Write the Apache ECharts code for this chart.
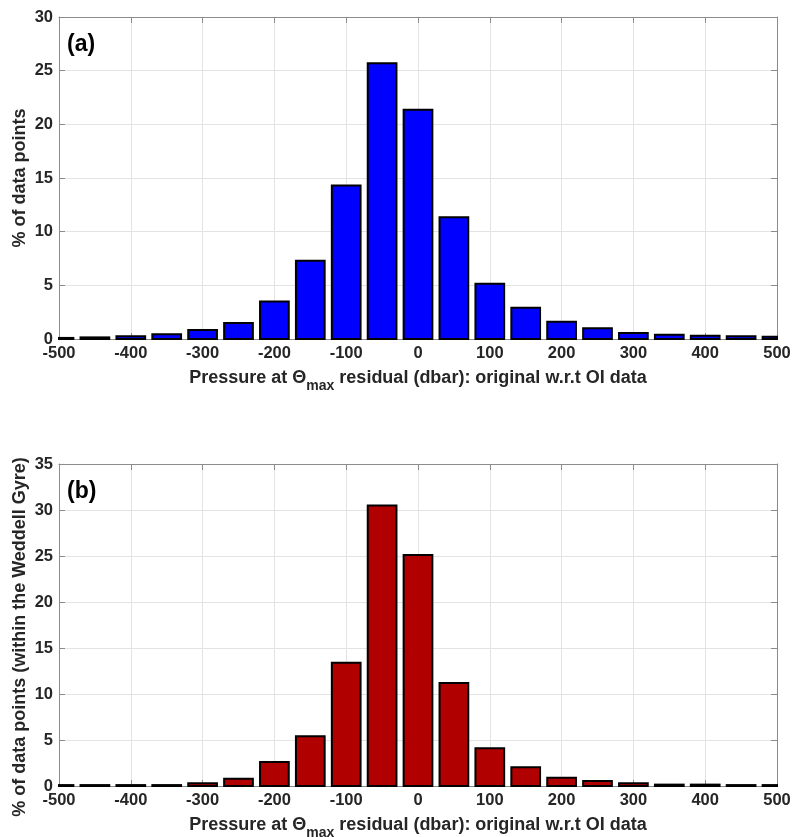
<!DOCTYPE html>
<html>
<head>
<meta charset="utf-8">
<script src="https://cdn.jsdelivr.net/npm/echarts@6/dist/echarts.min.js"></script>
<style>
    html, body { margin: 0; padding: 0; background: #fff; }
    #chart { width: 795px; height: 837px; }
</style>
</head>
<body>
<div id="chart"></div>
<script>
    // bin centres (dbar) and % of data points in each bin
    const residuals = [-500, -450, -400, -350, -300, -250, -200, -150, -100, -50, 0,
                       50, 100, 150, 200, 250, 300, 350, 400, 450, 500];
    const pctAll = [0.1, 0.15, 0.25, 0.45, 0.85, 1.5, 3.5, 7.3, 14.3, 25.7, 21.35,
                    11.35, 5.15, 2.9, 1.6, 1.0, 0.55, 0.4, 0.3, 0.25, 0.2];
    const pctWeddell = [0.1, 0.1, 0.1, 0.1, 0.3, 0.8, 2.6, 5.4, 13.4, 30.5, 25.1,
                        11.2, 4.1, 2.05, 0.9, 0.55, 0.3, 0.15, 0.15, 0.1, 0.1];
    const panelLabels = ['(a)', '(b)'];
    const yNames = ['% of data points', '% of data points (within the Weddell Gyre)'];
    const yMax = [30, 35];
    const barHalfWidth = 20; // dbar, bars are 40 dbar wide in 50 dbar bins

    const textColor = '#262626';
    const boxColor = '#8c8c8c';
    const font = 'Liberation Sans';

    const chart = echarts.init(document.getElementById('chart'));

    const grids = [
        { left: 59, top: 17, width: 718, height: 322, containLabel: false, outerBoundsMode: 'none' },
        { left: 59, top: 464, width: 718, height: 322, containLabel: false, outerBoundsMode: 'none' }
    ];

    const xAxes = [];
    const yAxes = [];
    const series = [];
    const titles = [];

    function boxAxis(extra) {
        return Object.assign({
            axisLine: { show: true, onZero: false, lineStyle: { color: boxColor, width: 1 } },
            axisTick: { show: true, inside: true, length: 6, lineStyle: { color: boxColor } },
            axisLabel: { show: false },
            splitLine: { show: false }
        }, extra);
    }

    [pctAll, pctWeddell].forEach(function (vals, g) {
        // bottom x axis
        xAxes.push(boxAxis({
            type: 'value', gridIndex: g, min: -500, max: 500, interval: 100,
            name: '{n|Pressure at Θ}{s|max}{n| residual (dbar): original w.r.t OI data}',
            nameLocation: 'middle', nameGap: 25,
            nameTextStyle: {
                rich: {
                    n: { fontFamily: font, fontWeight: 'bold', fontSize: 18, color: textColor },
                    s: { fontFamily: font, fontWeight: 'bold', fontSize: 14, color: textColor, padding: [15, 0, 0, 0] }
                }
            },
            axisLabel: { color: textColor, fontFamily: font, fontWeight: 'bold', fontSize: 16.5, margin: 6 },
            splitLine: { show: true, lineStyle: { color: '#e3e3e3', width: 1 } }
        }));
        // top x axis (box + ticks)
        xAxes.push(boxAxis({ type: 'value', gridIndex: g, position: 'top', min: -500, max: 500, interval: 100 }));
        // left y axis
        yAxes.push(boxAxis({
            type: 'value', gridIndex: g, min: 0, max: yMax[g], interval: 5,
            name: yNames[g], nameLocation: 'middle', nameGap: 30, nameMoveOverlap: false,
            nameTextStyle: {
                fontFamily: font, fontWeight: 'bold', fontSize: 18, color: textColor,
                padding: g === 1 ? [0, 24, 0, 0] : 0
            },
            axisLabel: { color: textColor, fontFamily: font, fontWeight: 'bold', fontSize: 16.5, margin: 6 },
            splitLine: { show: true, lineStyle: { color: '#e3e3e3', width: 1 } }
        }));
        // right y axis (box + ticks)
        yAxes.push(boxAxis({ type: 'value', gridIndex: g, position: 'right', min: 0, max: yMax[g], interval: 5 }));

        const fill = g === 0 ? '#0000ff' : '#b00000';
        series.push({
            type: 'custom',
            xAxisIndex: g * 2,
            yAxisIndex: g * 2,
            encode: { x: 0, y: 1 },
            data: residuals.map(function (r, i) { return [r, vals[i]]; }),
            renderItem: function (params, api) {
                const x = api.value(0);
                const y = api.value(1);
                const p0 = api.coord([x - barHalfWidth, y]);
                const p1 = api.coord([x + barHalfWidth, 0]);
                const cs = params.coordSys;
                const rect = echarts.graphic.clipRectByRect(
                    { x: p0[0], y: p0[1], width: p1[0] - p0[0], height: p1[1] - p0[1] },
                    { x: cs.x, y: cs.y, width: cs.width, height: cs.height }
                );
                if (!rect) return null;
                return {
                    type: 'rect',
                    shape: rect,
                    style: { fill: fill, stroke: '#000', lineWidth: 2 }
                };
            }
        });

        titles.push({
            text: panelLabels[g],
            left: 62,
            top: grids[g].top + 11,
            textStyle: { fontFamily: font, fontWeight: 'bold', fontSize: 23, color: '#000' }
        });
    });

    chart.setOption({
        animation: false,
        title: titles,
        grid: grids,
        xAxis: xAxes,
        yAxis: yAxes,
        series: series
    });
</script>
</body>
</html>
